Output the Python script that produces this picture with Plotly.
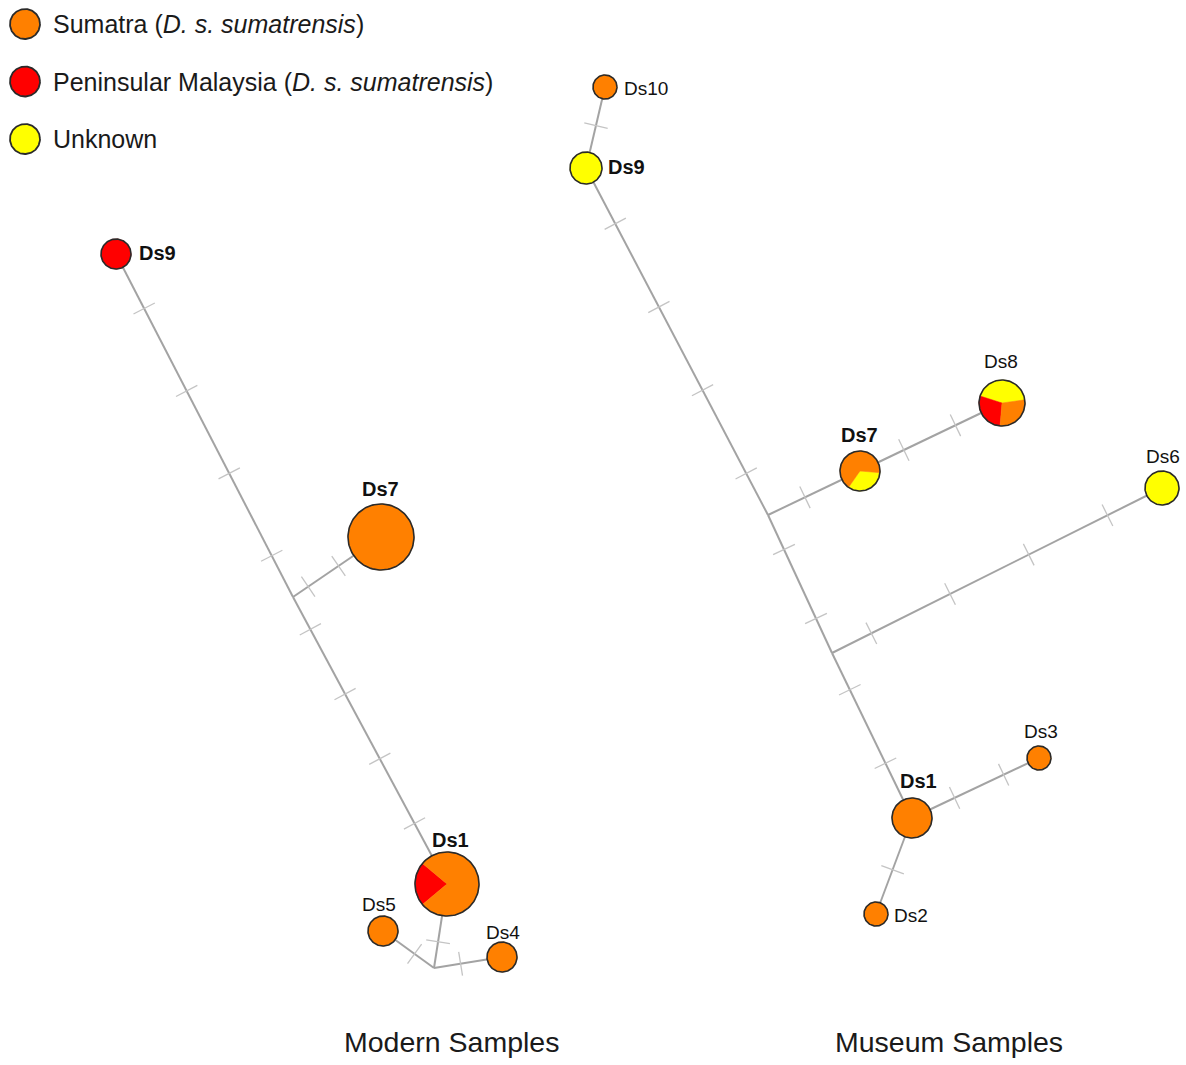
import numpy as np
import plotly.graph_objects as go

W, H = 1186, 1065

# ---------------- data ----------------
group_names = ["Sumatra", "Peninsular Malaysia", "Unknown"]
group_labels = ["Sumatra (<i>D. s. sumatrensis</i>)",
                "Peninsular Malaysia (<i>D. s. sumatrensis</i>)",
                "Unknown"]

# Modern samples network
modern_haplotypes = ["Ds9", "Ds7", "Ds1", "Ds5", "Ds4"]
modern_sumatra    = [0, 10, 7, 1, 1]
modern_peninsular = [1, 0, 2, 0, 0]
modern_unknown    = [0, 0, 0, 0, 0]
modern_edges      = [("Ds9", "m1"), ("m1", "Ds7"), ("m1", "Ds1"),
                     ("Ds1", "m2"), ("m2", "Ds5"), ("m2", "Ds4")]
modern_mutations  = [4, 2, 4, 1, 1, 1]

# Museum samples network
museum_haplotypes = ["Ds10", "Ds9", "Ds7", "Ds8", "Ds6", "Ds1", "Ds3", "Ds2"]
museum_sumatra    = [1, 0, 2, 2, 0, 3, 1, 1]
museum_peninsular = [0, 0, 0, 2, 0, 0, 0, 0]
museum_unknown    = [0, 2, 1, 3, 2, 0, 0, 0]
museum_edges      = [("Ds10", "Ds9"), ("Ds9", "a"), ("a", "Ds7"), ("Ds7", "Ds8"),
                     ("a", "b"), ("b", "Ds6"), ("b", "Ds1"), ("Ds1", "Ds3"), ("Ds1", "Ds2")]
museum_mutations  = [1, 4, 1, 2, 2, 4, 2, 2, 1]

shared_haplotypes = ["Ds1", "Ds7", "Ds9"]
panel_titles = ["Modern Samples", "Museum Samples"]

# ---------------- layout (network drawing coordinates, styles) ----------------
colors = ["#FF8000", "#FF0000", "#FFFF00"]
FONT = "Liberation Sans, Arial, sans-serif"
EDGE_COLOR = "#A3A3A3"
TICK_COLOR = "#C4C4C4"
OUTLINE = "#2a2a2a"

modern_layout = {
    "Ds9": dict(pos=(116, 254), r=15, start=0, lab=(21, -1, "left")),
    "Ds7": dict(pos=(381, 537), r=33, start=0, lab=(-1, -48, "center")),
    "Ds1": dict(pos=(447, 884), r=32, start=140, lab=(3, -44, "center")),
    "Ds5": dict(pos=(383, 931), r=15, start=0, lab=(-4, -27, "center")),
    "Ds4": dict(pos=(502, 957), r=15, start=0, lab=(1, -25, "center")),
    "m1": dict(pos=(293, 597), r=0),
    "m2": dict(pos=(434, 968), r=0),
}
museum_layout = {
    "Ds10": dict(pos=(605, 87), r=12, start=0, lab=(17, 1, "left")),
    "Ds9": dict(pos=(586, 168), r=16, start=0, lab=(20, -1, "left")),
    "Ds7": dict(pos=(860, 471), r=20, start=235, lab=(-1, -36, "center")),
    "Ds8": dict(pos=(1002, 403), r=23, start=8, lab=(-1, -42, "center")),
    "Ds6": dict(pos=(1162, 488), r=17, start=0, lab=(1, -32, "center")),
    "Ds1": dict(pos=(912, 818), r=20, start=0, lab=(6, -37, "center")),
    "Ds3": dict(pos=(1039, 758), r=12, start=0, lab=(2, -27, "center")),
    "Ds2": dict(pos=(876, 914), r=12, start=0, lab=(16, 1, "left")),
    "a": dict(pos=(768, 515), r=0),
    "b": dict(pos=(832, 653), r=0),
}

fig = go.Figure()


def add_network(haps, counts, edges, muts, lay):
    # edges
    for (u, v) in edges:
        (x0, y0), (x1, y1) = lay[u]["pos"], lay[v]["pos"]
        fig.add_trace(go.Scatter(x=[x0, x1], y=[y0, y1], mode="lines",
                                 line=dict(color=EDGE_COLOR, width=2),
                                 hoverinfo="skip", showlegend=False))
    # mutation ticks
    tx, ty = [], []
    for (u, v), n in zip(edges, muts):
        (x0, y0), (x1, y1) = np.array(lay[u]["pos"], float), np.array(lay[v]["pos"], float)
        d = np.array([x1 - x0, y1 - y0])
        L = np.hypot(*d)
        ud = d / L
        perp = np.array([-ud[1], ud[0]])
        s0 = lay[u]["r"] / L
        s1 = 1 - lay[v]["r"] / L
        for i in range(n):
            f = s0 + (s1 - s0) * (i + 0.5) / n
            cx, cy = x0 + d[0] * f, y0 + d[1] * f
            tx += [cx - perp[0] * 12, cx + perp[0] * 12, None]
            ty += [cy - perp[1] * 12, cy + perp[1] * 12, None]
    fig.add_trace(go.Scatter(x=tx, y=ty, mode="lines",
                             line=dict(color=TICK_COLOR, width=1.3),
                             hoverinfo="skip", showlegend=False))
    # nodes as pies
    for h, c in zip(haps, counts):
        L_ = lay[h]
        cx, cy = L_["pos"]
        r = L_["r"]
        total = sum(c)
        # order counter-clockwise: Unknown, Peninsular, Sumatra
        order = [2, 1, 0]
        ang = np.radians(L_["start"])
        for gi in order:
            if c[gi] == 0:
                continue
            span = 2 * np.pi * c[gi] / total
            t = np.linspace(ang, ang + span, max(4, int(120 * c[gi] / total) + 2))
            if c[gi] == total:
                xs = cx + r * np.cos(t)
                ys = cy - r * np.sin(t)
            else:
                xs = np.concatenate([[cx], cx + r * np.cos(t), [cx]])
                ys = np.concatenate([[cy], cy - r * np.sin(t), [cy]])
            fig.add_trace(go.Scatter(x=xs, y=ys, mode="lines", fill="toself",
                                     fillcolor=colors[gi],
                                     line=dict(color=colors[gi], width=0.5),
                                     hoverinfo="skip", showlegend=False))
            ang += span
        t = np.linspace(0, 2 * np.pi, 121)
        fig.add_trace(go.Scatter(x=cx + r * np.cos(t), y=cy - r * np.sin(t), mode="lines",
                                 line=dict(color=OUTLINE, width=1.6),
                                 hoverinfo="skip", showlegend=False))
        dx, dy, anchor = L_["lab"]
        bold = h in shared_haplotypes
        fig.add_annotation(x=cx + dx, y=cy + dy, xref="x", yref="y",
                           text=f"<b>{h}</b>" if bold else h, showarrow=False,
                           xanchor=anchor, yanchor="middle",
                           font=dict(family=FONT, size=20 if bold else 19, color="#111111"))


add_network(modern_haplotypes,
            list(zip(modern_sumatra, modern_peninsular, modern_unknown)),
            modern_edges, modern_mutations, modern_layout)
add_network(museum_haplotypes,
            list(zip(museum_sumatra, museum_peninsular, museum_unknown)),
            museum_edges, museum_mutations, museum_layout)

# panel titles
for title, x in zip(panel_titles, [451, 949]):
    fig.add_annotation(x=x, y=1042, xref="x", yref="y", text=title, showarrow=False,
                       xanchor="center", yanchor="middle",
                       font=dict(family=FONT, size=28.5, color="#1a1a1a"))

# legend
for i, (lab, col) in enumerate(zip(group_labels, colors)):
    cy = 24 + 57.5 * i
    t = np.linspace(0, 2 * np.pi, 121)
    fig.add_trace(go.Scatter(x=25 + 15 * np.cos(t), y=cy - 15 * np.sin(t), mode="lines",
                             fill="toself", fillcolor=col,
                             line=dict(color=OUTLINE, width=1.8),
                             hoverinfo="skip", showlegend=False))
    fig.add_annotation(x=51, y=cy, xref="x", yref="y", text=lab, showarrow=False,
                       xanchor="left", yanchor="middle",
                       font=dict(family=FONT, size=25, color="#1a1a1a"))

fig.update_xaxes(range=[0, W], visible=False, fixedrange=True)
fig.update_yaxes(range=[H, 0], visible=False, fixedrange=True)
fig.update_layout(width=W, height=H, autosize=False,
                  margin=dict(l=0, r=0, t=0, b=0),
                  plot_bgcolor="white", paper_bgcolor="white",
                  showlegend=False)

fig.write_html("out.html", config={"displayModeBar": False},
               post_script="document.body.style.margin='0';document.body.style.overflow='hidden';")
